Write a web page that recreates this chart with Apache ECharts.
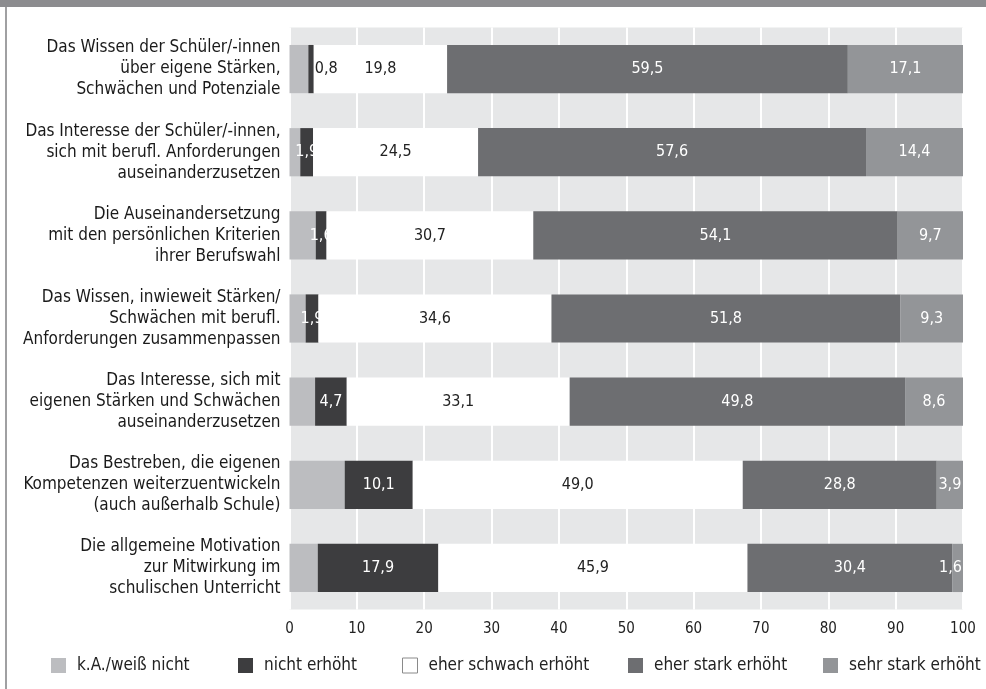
<!DOCTYPE html>
<html>
<head>
<meta charset="utf-8">
<script src="https://cdn.jsdelivr.net/npm/echarts@6/dist/echarts.min.js"></script>
<style>
html,body{margin:0;padding:0;background:#fff;}
#chart{width:986px;height:689px;}
</style>
</head>
<body>
<div id="chart"></div>
<script>
const categories = [
  "Das Wissen der Schüler/-innen\nüber eigene Stärken,\nSchwächen und Potenziale",
  "Das Interesse der Schüler/-innen,\nsich mit berufl. Anforderungen\nauseinanderzusetzen",
  "Die Auseinandersetzung\nmit den persönlichen Kriterien\nihrer Berufswahl",
  "Das Wissen, inwieweit Stärken/\nSchwächen mit berufl.\nAnforderungen zusammenpassen",
  "Das Interesse, sich mit\neigenen Stärken und Schwächen\nauseinanderzusetzen",
  "Das Bestreben, die eigenen\nKompetenzen weiterzuentwickeln\n(auch außerhalb Schule)",
  "Die allgemeine Motivation\nzur Mitwirkung im\nschulischen Unterricht"
];
const seriesNames = ["k.A./weiß nicht", "nicht erhöht", "eher schwach erhöht", "eher stark erhöht", "sehr stark erhöht"];
const kA        = [2.8, 1.6, 3.9, 2.4, 3.8, 8.2, 4.2];
const nicht     = [0.8, 1.9, 1.6, 1.9, 4.7, 10.1, 17.9];
const schwach   = [19.8, 24.5, 30.7, 34.6, 33.1, 49.0, 45.9];
const eherStark = [59.5, 57.6, 54.1, 51.8, 49.8, 28.8, 30.4];
const sehrStark = [17.1, 14.4, 9.7, 9.3, 8.6, 3.9, 1.6];
const xTicks = [0, 10, 20, 30, 40, 50, 60, 70, 80, 90, 100];

const FONT = "'Liberation Sans Narrow', 'DejaVu Sans Condensed', 'Liberation Sans', sans-serif";
const colors = ["#bcbdc0", "#3d3d3f", "#ffffff", "#6d6e71", "#939598"];
const labelColors = [null, "#ffffff", "#222222", "#ffffff", "#ffffff"];
const fmt = v => v.toFixed(1).replace(".", ",");

const allData = [kA, nicht, schwach, eherStark, sehrStark];

function buildData(idx) {
  return allData[idx].map(v => {
    const item = { value: v };
    if (idx === 1 && v < 1) {
      item.label = { position: "right", distance: 1, color: "#222222" };
    }
    if (idx === 4 && v < 2) {
      item.label = { position: "insideRight", distance: 1 };
    }
    return item;
  });
}

const series = seriesNames.map((name, i) => ({
  name: name,
  type: "bar",
  stack: "total",
  barCategoryGap: "42%",
  itemStyle: { color: colors[i] },
  label: {
    show: i !== 0,
    position: "inside",
    color: labelColors[i] || "#222",
    fontFamily: FONT,
    fontSize: 16,
    formatter: p => fmt(p.value)
  },
  emphasis: { disabled: true },
  data: buildData(i)
}));

const legendLefts = [51, 238, 402, 628, 823];
const legends = seriesNames.map((name, i) => ({
  left: legendLefts[i],
  top: 657,
  padding: 0,
  itemWidth: 15,
  itemHeight: 15,
  icon: "rect",
  selectedMode: false,
  data: [{
    name: name,
    itemStyle: i === 2 ? { color: "#ffffff", borderColor: "#8a8a8a", borderWidth: 1 } : { color: colors[i] }
  }],
  textStyle: { fontFamily: FONT, fontSize: 17, color: "#222", padding: [0, 0, 0, 6] }
}));

const chart = echarts.init(document.getElementById("chart"), null, { renderer: "canvas" });
chart.setOption({
  animation: false,
  backgroundColor: "#ffffff",
  grid: {
    left: 289.5, right: 23, top: 27.5, bottom: 79.5,
    show: true, backgroundColor: "#e6e7e8", borderWidth: 0,
    containLabel: false
  },
  legend: legends,
  xAxis: {
    type: "value",
    min: xTicks[0], max: xTicks[xTicks.length - 1], interval: 10,
    axisLine: { show: false },
    axisTick: { show: false },
    splitLine: { show: true, lineStyle: { color: "#ffffff", width: 2 } },
    axisLabel: { fontFamily: FONT, fontSize: 15, color: "#222", margin: 12 }
  },
  yAxis: {
    type: "category",
    inverse: true,
    data: categories,
    axisLine: { show: false },
    axisTick: { show: false },
    axisLabel: { fontFamily: FONT, fontSize: 17, color: "#1a1a1a", lineHeight: 21, align: "right", margin: 9 }
  },
  graphic: [
    { type: "rect", shape: { x: 0, y: 0, width: 986, height: 7 }, style: { fill: "#8c8c8f" }, silent: true },
    { type: "rect", shape: { x: 5, y: 7, width: 2, height: 682 }, style: { fill: "#a0a0a2" }, silent: true }
  ],
  series: series
});
</script>
</body>
</html>
